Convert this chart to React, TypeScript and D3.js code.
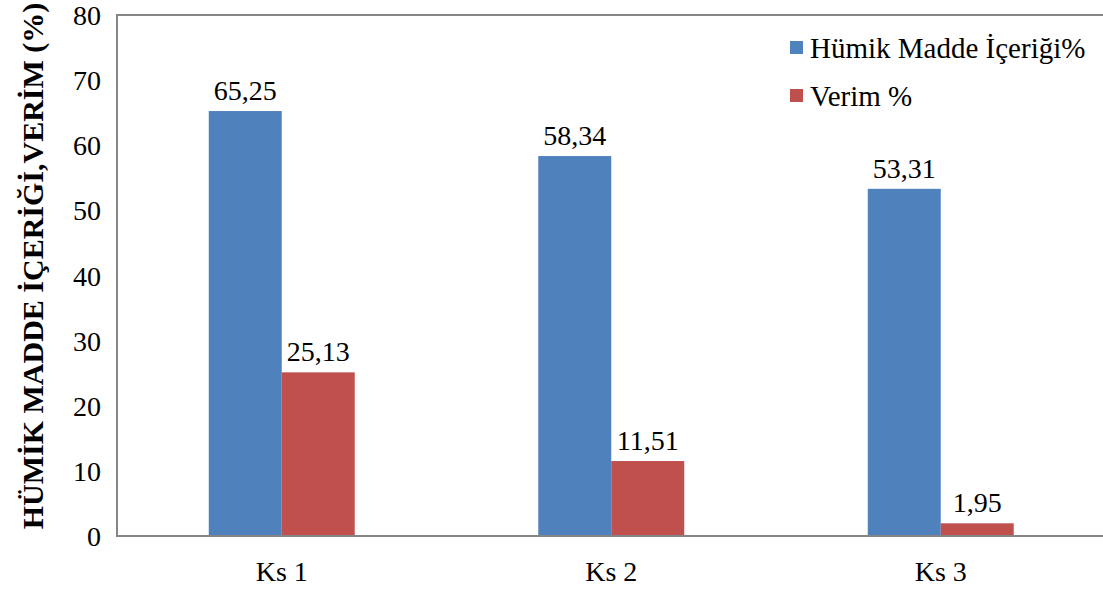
import React from "react";
import * as d3 from "d3";

const categories = ["Ks 1", "Ks 2", "Ks 3"];
const humik = [65.25, 58.34, 53.31];
const verim = [25.13, 11.51, 1.95];
const seriesNames = ["Hümik Madde İçeriği%", "Verim %"];
const yTicks = [0, 10, 20, 30, 40, 50, 60, 70, 80];
const colors = ["#4F81BD", "#C0504D"];

const W = 1103, H = 589;
const left = 117, right = 1105.5, top = 15, bottom = 536;
const ff = { fontFamily: '"Liberation Serif", "Times New Roman", Times, serif' };

export default function App() {
  const x = d3.scaleBand<string>().domain(categories).range([left, right]).paddingInner(0.557).paddingOuter(0.2785);
  const sub = d3.scaleBand<number>().domain([0, 1]).range([0, x.bandwidth()]);
  const y = d3.scaleLinear().domain([0, 80]).range([bottom, top]);
  const series = [humik, verim];
  const fmt = (v: number) => v.toFixed(2).replace(".", ",");
  return (
    <svg width={W} height={H} style={{ position: "absolute", left: 0, top: 0, background: "#fff" }}>
      {series.map((vals, si) =>
        categories.map((c, ci) => {
          const bx = (x(c) as number) + (sub(si) as number);
          const by = y(vals[ci]);
          return (
            <g key={`${si}-${ci}`}>
              <rect x={bx} y={by} width={sub.bandwidth()} height={bottom - by} fill={colors[si]} />
              <text x={bx + sub.bandwidth() / 2} y={by - 11} textAnchor="middle" fontSize={28} fill="#000" style={ff}>{fmt(vals[ci])}</text>
            </g>
          );
        })
      )}
      <path d={`M${right},${top}H${left}V${bottom}H${right}`} fill="none" stroke="#868686" strokeWidth={2} />
      {yTicks.map((t) => (
        <text key={t} x={101} y={y(t) + 10} textAnchor="end" fontSize={28} fill="#000" style={ff}>{t}</text>
      ))}
      {categories.map((c) => (
        <text key={c} x={(x(c) as number) + x.bandwidth() / 2} y={581} textAnchor="middle" fontSize={28} fill="#000" style={ff}>{c}</text>
      ))}
      <text transform={`translate(43,266) rotate(-90)`} textAnchor="middle" fontSize={30} fontWeight="bold" fill="#000" style={ff}>
        HÜMİK MADDE İÇERİĞİ,VERİM (%)
      </text>
      {seriesNames.map((n, i) => (
        <g key={n}>
          <rect x={790} y={41 + i * 48} width={13} height={13} fill={colors[i]} />
          <text x={810} y={58 + i * 48} fontSize={29} fill="#000" style={ff}>{n}</text>
        </g>
      ))}
    </svg>
  );
}
